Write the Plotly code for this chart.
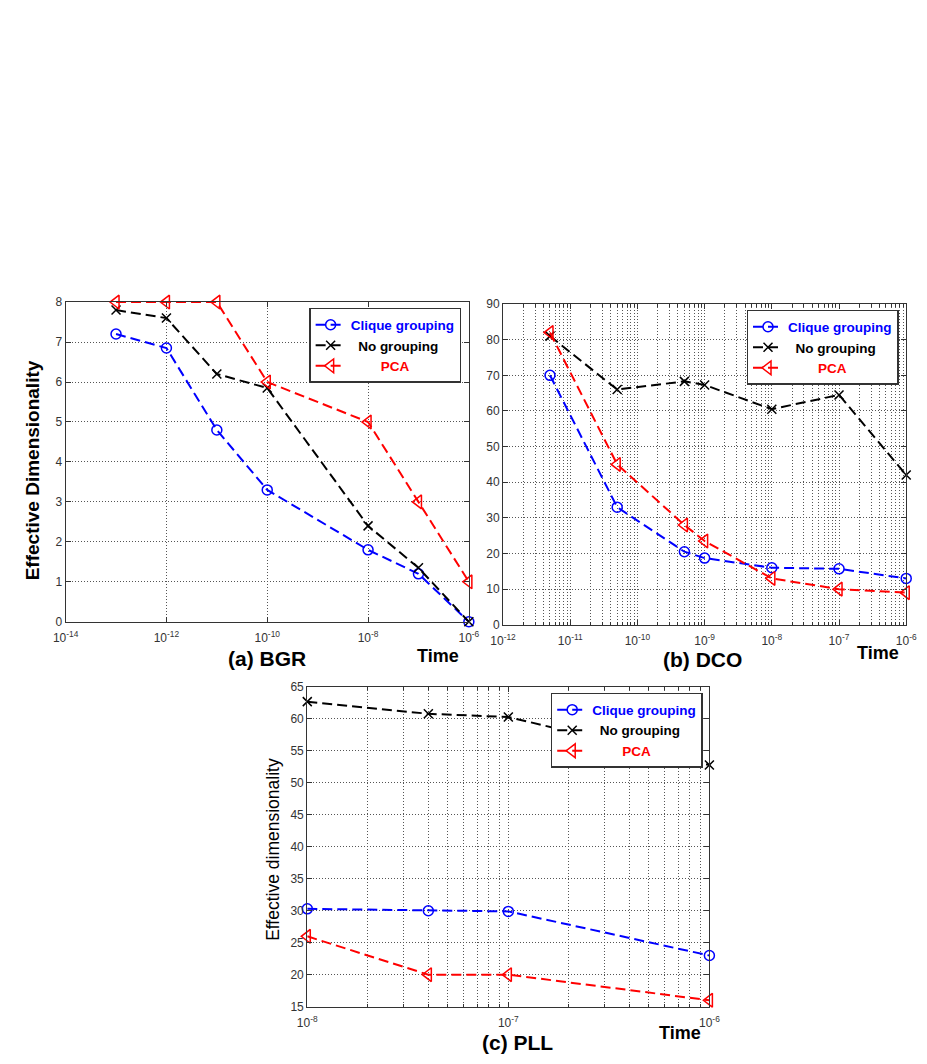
import plotly.graph_objects as go

# ---------------- data ----------------
series_names = ["Clique grouping", "No grouping", "PCA"]

# (a) BGR
bgr_time = [1e-13, 1e-12, 1e-11, 1e-10, 1e-8, 1e-7, 1e-6]
bgr_clique = [7.2, 6.85, 4.8, 3.3, 1.8, 1.2, 0.0]
bgr_nogroup = [7.8, 7.6, 6.2, 5.85, 2.4, 1.35, 0.0]
bgr_pca = [8, 8, 8, 6, 5, 3, 1]
bgr_xticks = [1e-14, 1e-12, 1e-10, 1e-8, 1e-6]
bgr_xlabels = ["10<sup>-14</sup>", "10<sup>-12</sup>", "10<sup>-10</sup>", "10<sup>-8</sup>", "10<sup>-6</sup>"]
bgr_yticks = [0, 1, 2, 3, 4, 5, 6, 7, 8]

# (b) DCO
dco_time = [5e-12, 5e-11, 5e-10, 1e-9, 1e-8, 1e-7, 1e-6]
dco_clique = [70, 33, 20.5, 18.7, 16, 15.7, 13]
dco_nogroup = [81, 66, 68.3, 67.3, 60.5, 64.5, 42]
dco_pca = [82, 45, 28, 23.5, 13, 10, 9]
dco_xticks = [1e-12, 1e-11, 1e-10, 1e-9, 1e-8, 1e-7, 1e-6]
dco_xlabels = ["10<sup>-12</sup>", "10<sup>-11</sup>", "10<sup>-10</sup>", "10<sup>-9</sup>",
               "10<sup>-8</sup>", "10<sup>-7</sup>", "10<sup>-6</sup>"]
dco_yticks = [0, 10, 20, 30, 40, 50, 60, 70, 80, 90]

# (c) PLL
pll_time = [1e-8, 4e-8, 1e-7, 1e-6]
pll_clique = [30.3, 30.0, 29.9, 23.0]
pll_nogroup = [62.7, 60.8, 60.3, 52.8]
pll_pca = [26, 20, 20, 16]
pll_xticks = [1e-8, 1e-7, 1e-6]
pll_xlabels = ["10<sup>-8</sup>", "10<sup>-7</sup>", "10<sup>-6</sup>"]
pll_yticks = [15, 20, 25, 30, 35, 40, 45, 50, 55, 60, 65]

# ---------------- styling ----------------
W, H = 927, 1064
BLUE, BLACK, RED = "#0000FF", "#000000", "#FF0000"
DASH = "10px,5px"
GRIDDASH = "1px,2px"
FONT = "Liberation Sans, Arial, sans-serif"
EPS = 0.0005  # tiny range padding so edge points (log10 rounding) stay visible

fig = go.Figure()

legend_labels = [
    "<b><span style='color:#0000FF'>Clique grouping</span></b>",
    "<b><span style='color:#000000'>&nbsp;&nbsp;No grouping</span></b>",
    "<b><span style='color:#FF0000'>&nbsp;&nbsp;&nbsp;&nbsp;&nbsp;&nbsp;&nbsp;&nbsp;PCA</span></b>",
]


def add_panel(xs, ys_list, xaxis, yaxis, legend):
    styles = [
        (BLUE, "circle-open", 10),
        (BLACK, "x-thin-open", 9),
        (RED, "triangle-left-open", 12),
    ]
    for ys, (col, sym, sz), lab in zip(ys_list, styles, legend_labels):
        fig.add_trace(go.Scatter(
            x=xs, y=ys, mode="lines+markers", name=lab, cliponaxis=False,
            line=dict(color=col, width=2, dash=DASH),
            marker=dict(symbol=sym, size=sz, color=col, line=dict(color=col, width=1.5)),
            xaxis=xaxis, yaxis=yaxis, legend=legend,
        ))


add_panel(bgr_time, [bgr_clique, bgr_nogroup, bgr_pca], "x", "y", "legend")
add_panel(dco_time, [dco_clique, dco_nogroup, dco_pca], "x2", "y2", "legend2")
add_panel(pll_time, [pll_clique, pll_nogroup, pll_pca], "x3", "y3", "legend3")


def px_x(v):
    return v / W


def px_y(v):
    return 1 - v / H


axis_common = dict(
    showline=True, linecolor="#333333", linewidth=1, mirror="allticks",
    ticks="inside", ticklen=5, tickcolor="#333333",
    showgrid=True, gridcolor="#555555", griddash=GRIDDASH, gridwidth=1,
    zeroline=False, tickfont=dict(family=FONT, size=12, color="#333333"),
)
xaxis_extra = dict(ticklabelstandoff=5)

minor_log = dict(dtick="D1", showgrid=True, gridcolor="#555555", griddash=GRIDDASH,
                 gridwidth=1, ticks="inside", ticklen=3, tickcolor="#333333")

fig.update_layout(
    width=W, height=H, margin=dict(l=0, r=0, t=0, b=0),
    paper_bgcolor="white", plot_bgcolor="white",
    font=dict(family=FONT),
    xaxis=dict(axis_common, **xaxis_extra, type="log", range=[-14 - EPS, -6 + EPS], tickmode="array",
               tickvals=bgr_xticks, ticktext=bgr_xlabels,
               domain=[px_x(54), px_x(468)], anchor="y"),
    yaxis=dict(axis_common, range=[0 - 0.0005, 8 + 0.0005], tickmode="array", tickvals=bgr_yticks,
               domain=[px_y(623), px_y(299)], anchor="x"),
    xaxis2=dict(axis_common, **xaxis_extra, type="log", range=[-12 - EPS, -6 + EPS], tickmode="array",
                tickvals=dco_xticks, ticktext=dco_xlabels, minor=minor_log,
                domain=[px_x(503), px_x(917)], anchor="y2"),
    yaxis2=dict(axis_common, range=[0, 90], tickmode="array", tickvals=dco_yticks,
                domain=[px_y(626), px_y(301)], anchor="x2"),
    xaxis3=dict(axis_common, **xaxis_extra, type="log", range=[-8 - EPS, -6 + EPS], tickmode="array",
                tickvals=pll_xticks, ticktext=pll_xlabels, minor=minor_log,
                domain=[px_x(302), px_x(715)], anchor="y3"),
    yaxis3=dict(axis_common, range=[15, 65], tickmode="array", tickvals=pll_yticks,
                domain=[px_y(1013), px_y(689)], anchor="x3"),
)

legend_common = dict(
    bgcolor="white", bordercolor="#333333", borderwidth=1.5,
    font=dict(family=FONT, size=13.5, color="black"),
    xanchor="left", yanchor="top", tracegroupgap=0, itemwidth=30,
)
fig.update_layout(
    legend=dict(legend_common, x=px_x(304), y=px_y(305)),
    legend2=dict(legend_common, x=px_x(753), y=px_y(307)),
    legend3=dict(legend_common, x=px_x(552), y=px_y(695)),
)

captions = [
    ("(a) BGR", 261, 660, 21),
    ("Time", 436, 658, 18),
    ("(b) DCO", 708, 661, 21),
    ("Time", 888, 655, 18),
    ("(c) PLL", 518, 1049, 21),
    ("Time", 685, 1040, 18),
]
for txt, cx, cy, sz in captions:
    fig.add_annotation(
        text=f"<b>{txt}</b>", x=px_x(cx), y=px_y(cy),
        xref="paper", yref="paper", showarrow=False,
        xanchor="center", yanchor="middle",
        font=dict(family=FONT, size=sz, color="black"),
    )

fig.add_annotation(text="<b>Effective Dimensionality</b>", x=px_x(20), y=px_y(469),
                   xref="paper", yref="paper", showarrow=False, textangle=-90,
                   xanchor="center", yanchor="middle",
                   font=dict(family=FONT, size=19, color="black"))
fig.add_annotation(text="Effective dimensionality", x=px_x(267), y=px_y(854),
                   xref="paper", yref="paper", showarrow=False, textangle=-90,
                   xanchor="center", yanchor="middle",
                   font=dict(family=FONT, size=17.5, color="black"))

fig.write_html("out.html")
